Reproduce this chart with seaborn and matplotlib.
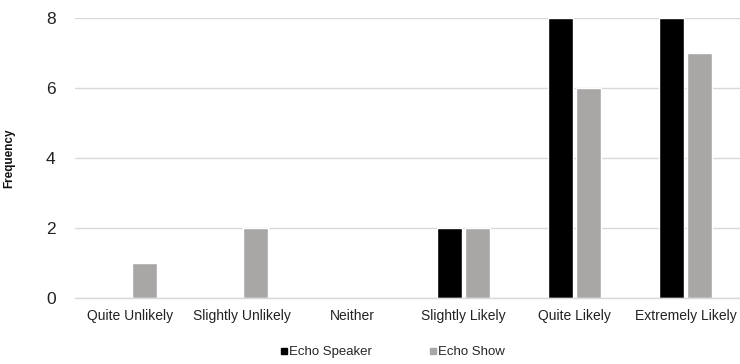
import matplotlib
matplotlib.use("Agg")
import matplotlib.pyplot as plt
from matplotlib.lines import Line2D
import pandas as pd
import seaborn as sns

categories = ["Quite Unlikely", "Slightly Unlikely", "Neither",
              "Slightly Likely", "Quite Likely", "Extremely Likely"]
echo_speaker = [0, 0, 0, 2, 8, 8]
echo_show = [1, 2, 0, 2, 6, 7]
series_names = ["Echo Speaker", "Echo Show"]
series_colors = ["#000000", "#A9A6A6"]

df = pd.DataFrame({
    "Likelihood": categories * 2,
    "Frequency": echo_speaker + echo_show,
    "Device": [series_names[0]] * len(categories) + [series_names[1]] * len(categories),
})

sns.set_theme(style="white")
plt.rcParams["font.family"] = ["Liberation Sans", "DejaVu Sans"]

fig = plt.figure(figsize=(7.4, 3.64), dpi=100)
ax = fig.add_axes([75 / 740, 1 - 298 / 364, 666 / 740, 280 / 364])

sns.barplot(data=df, x="Likelihood", y="Frequency", hue="Device",
            order=categories, hue_order=series_names,
            palette=series_colors, width=0.51, gap=0.12,
            saturation=1, errorbar=None, legend=False, ax=ax)

ax.set_ylim(0, 8)
ax.set_yticks([0, 2, 4, 6, 8])
ax.yaxis.grid(True, color="#D9D9D9", linewidth=1)
ax.set_axisbelow(True)
for side in ["top", "right", "left"]:
    ax.spines[side].set_visible(False)
ax.spines["bottom"].set_color("#D9D9D9")
ax.spines["bottom"].set_linewidth(1)

ax.tick_params(axis="x", length=0, pad=8, labelsize=10, colors="#222222")
ax.tick_params(axis="y", length=0, pad=14, labelsize=12.5, colors="#222222")
ax.set_xlabel("")
ax.set_ylabel("Frequency", fontsize=8.5, fontweight="bold", labelpad=22, color="#111111")

handles = [Line2D([], [], marker="s", linestyle="", markersize=5,
                  markerfacecolor=c, markeredgecolor=c) for c in series_colors]
fig.legend(handles, series_names, loc="center", bbox_to_anchor=(392 / 740, 1 - 352 / 364),
           ncol=2, frameon=False, fontsize=9.5, handletextpad=0.0,
           columnspacing=4.2, handlelength=0.8)

fig.savefig("out.png", dpi=100)
